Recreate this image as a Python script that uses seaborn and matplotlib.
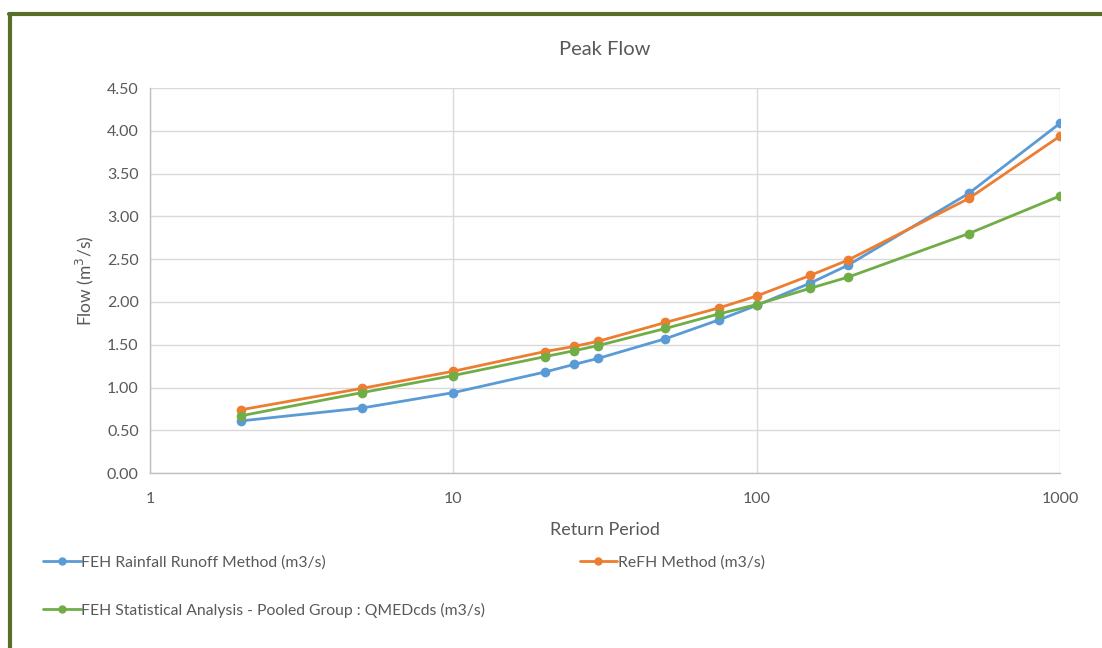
import pandas as pd
import matplotlib.pyplot as plt
import seaborn as sns
from matplotlib.lines import Line2D

# Return periods (years) and peak flow estimates (m3/s)
return_period = [2, 5, 10, 20, 25, 30, 50, 75, 100, 150, 200, 500, 1000]
feh_rainfall = [0.61, 0.76, 0.94, 1.18, 1.27, 1.34, 1.57, 1.79, 1.96, 2.22, 2.43, 3.27, 4.09]
refh = [0.74, 0.99, 1.19, 1.42, 1.48, 1.54, 1.76, 1.93, 2.07, 2.31, 2.49, 3.21, 3.94]
feh_statistical = [0.67, 0.94, 1.14, 1.36, 1.43, 1.49, 1.69, 1.86, 1.97, 2.16, 2.29, 2.80, 3.24]

series_names = ["FEH Rainfall Runoff Method (m3/s)",
                "ReFH Method (m3/s)",
                "FEH Statistical Analysis - Pooled Group : QMEDcds (m3/s)"]
colors = ["#5B9BD5", "#ED7D31", "#70AD47"]

df = pd.concat([
    pd.DataFrame({"Return Period": return_period, "Flow": vals, "Series": name})
    for name, vals in zip(series_names, [feh_rainfall, refh, feh_statistical])
])

sns.set_style("white")
plt.rcParams['font.family'] = ['Lato', 'DejaVu Sans']
text_color = "#595959"
grid_color = "#d9d9d9"

fig = plt.figure(figsize=(11.02, 6.48), dpi=100)
ax = fig.add_axes([0.136, 0.270, 0.826, 0.594])

sns.lineplot(data=df, x="Return Period", y="Flow", hue="Series",
             palette=dict(zip(series_names, colors)), marker="o",
             markersize=7, markeredgewidth=0, linewidth=2, ax=ax, legend=False)

ax.set_xscale("log")
ax.set_xlim(1, 1000)
ax.set_ylim(0, 4.5)
ax.set_xticks([1, 10, 100, 1000])
ax.set_xticklabels(["1", "10", "100", "1000"])
ax.minorticks_off()
ax.set_yticks([i * 0.5 for i in range(10)])
ax.set_yticklabels([f"{i * 0.5:.2f}" for i in range(10)])
ax.tick_params(axis="both", length=0, labelsize=11.5, labelcolor=text_color, pad=8)
ax.tick_params(axis="x", pad=14)

ax.grid(True, color=grid_color, linewidth=1)
ax.set_axisbelow(True)
for side in ["top", "right"]:
    ax.spines[side].set_visible(False)
for side in ["left", "bottom"]:
    ax.spines[side].set_color("#bfbfbf")
    ax.spines[side].set_linewidth(1)

ax.set_title("Peak Flow", fontsize=14.5, color=text_color, pad=24)
ax.set_xlabel("Return Period", fontsize=13, color=text_color, labelpad=11)
ax.set_ylabel("Flow (m$^3$/s)", fontsize=12.5, color=text_color, labelpad=8)

# Legend below the plot, order chosen so row 1 = blue, orange; row 2 = green
handles = [Line2D([0], [0], color=c, marker="o", markersize=5, linewidth=2) for c in colors]
order = [0, 2, 1]
fig.legend([handles[i] for i in order], [series_names[i] for i in order],
           loc="upper left", bbox_to_anchor=(0.039, 0.143), ncol=2, frameon=False,
           fontsize=11.3, labelcolor=text_color, handlelength=2.4, handletextpad=0.05,
           columnspacing=6.0, labelspacing=2.1, borderpad=0, borderaxespad=0)

# Dark green frame (top and left edges visible in the reference)
frame_color = "#5a6e2c"
fig.add_artist(Line2D([0.008, 1.0], [0.978, 0.978], transform=fig.transFigure,
                      color=frame_color, linewidth=3))
fig.add_artist(Line2D([0.0088, 0.0088], [0.0, 0.978], transform=fig.transFigure,
                      color=frame_color, linewidth=3))

plt.savefig("out.png", dpi=100)
